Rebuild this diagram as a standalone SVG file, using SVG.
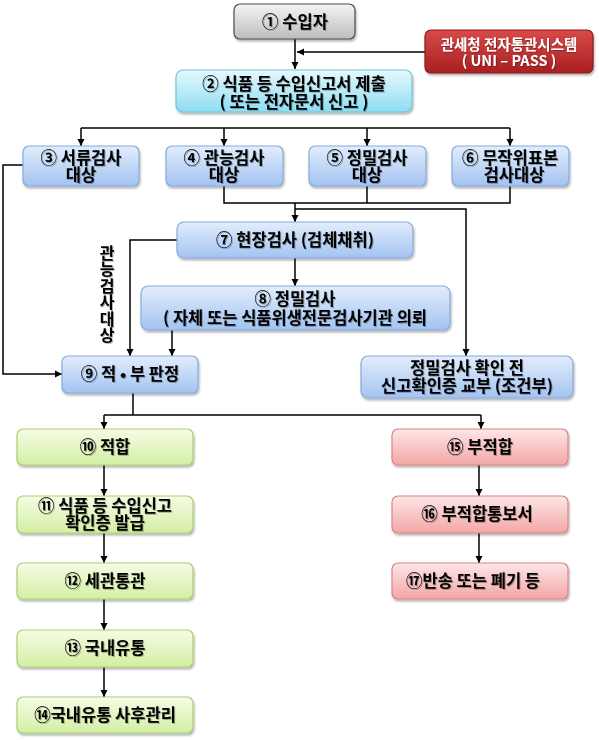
<svg xmlns="http://www.w3.org/2000/svg" width="599" height="740" viewBox="0 0 599 740">
<defs>
<linearGradient id="gGray" x1="0" y1="0" x2="0" y2="1"><stop offset="0" stop-color="#f4f4f4"/><stop offset="1" stop-color="#bdbdbd"/></linearGradient>
<linearGradient id="gRed" x1="0" y1="0" x2="0" y2="1"><stop offset="0" stop-color="#d84a4a"/><stop offset="1" stop-color="#a81f1f"/></linearGradient>
<linearGradient id="gCyan" x1="0" y1="0" x2="0" y2="1"><stop offset="0" stop-color="#e6f9fd"/><stop offset="1" stop-color="#8edcf3"/></linearGradient>
<linearGradient id="gBlue" x1="0" y1="0" x2="0" y2="1"><stop offset="0" stop-color="#e2edfc"/><stop offset="1" stop-color="#a3c3f1"/></linearGradient>
<linearGradient id="gGreen" x1="0" y1="0" x2="0" y2="1"><stop offset="0" stop-color="#f6fce6"/><stop offset="1" stop-color="#d3efa3"/></linearGradient>
<linearGradient id="gPink" x1="0" y1="0" x2="0" y2="1"><stop offset="0" stop-color="#fde6e6"/><stop offset="1" stop-color="#f4a6a6"/></linearGradient>
<filter id="sh" x="-10%" y="-20%" width="120%" height="150%"><feDropShadow dx="1" dy="2" stdDeviation="1.2" flood-color="#000" flood-opacity="0.3"/></filter>
<filter id="ts" x="-5%" y="-20%" width="110%" height="150%"><feDropShadow dx="1" dy="1" stdDeviation="0.7" flood-color="#000" flood-opacity="0.3"/></filter>
<marker id="ar" markerUnits="userSpaceOnUse" markerWidth="8" markerHeight="8" refX="7" refY="4" orient="auto"><path d="M0,0.5 L7,4 L0,7.5 Z" fill="#000"/></marker>
</defs>
<style>
.n{stroke-width:1.2;filter:url(#sh)}
.gray{fill:url(#gGray);stroke:#4d4d4d}
.red{fill:url(#gRed);stroke:#8c1a1a}
.cyan{fill:url(#gCyan);stroke:#6fc3dc}
.blue{fill:url(#gBlue);stroke:#86a9dc}
.green{fill:url(#gGreen);stroke:#a9cf73}
.pink{fill:url(#gPink);stroke:#d98585}
text{font-family:"Noto Sans CJK KR","Noto Sans",sans-serif;font-weight:bold;font-size:16.5px;fill:#000;text-anchor:middle;filter:url(#ts)}
.w{fill:#fff;font-size:14.5px}
.v{font-size:16px;writing-mode:vertical-rl;text-anchor:start;letter-spacing:0.4px}
.c path{fill:none;stroke:#000;stroke-width:1.5}
</style>
<g class="c" id="connectors">
<path d="M295,39 V69" marker-end="url(#ar)"/>
<path d="M425,52 H297" marker-end="url(#ar)"/>
<path d="M81,128 H510"/>
<path d="M81,128 V146" marker-end="url(#ar)"/>
<path d="M224,128 V146" marker-end="url(#ar)"/>
<path d="M367,128 V146" marker-end="url(#ar)"/>
<path d="M510,128 V146" marker-end="url(#ar)"/>
<path d="M224,186 V203 H510 V186"/>
<path d="M367,186 V203"/>
<path d="M295,203 V222" marker-end="url(#ar)"/>
<path d="M295,209 H466 V356" marker-end="url(#ar)"/>
<path d="M23,165 H3 V374 H62" marker-end="url(#ar)"/>
<path d="M177,240 H130 V356" marker-end="url(#ar)"/>
<path d="M295,258 V286" marker-end="url(#ar)"/>
<path d="M172,330 V356" marker-end="url(#ar)"/>
<path d="M133,393 V415"/>
<path d="M104,415 H481"/>
<path d="M104,415 V429" marker-end="url(#ar)"/>
<path d="M481,415 V429" marker-end="url(#ar)"/>
<path d="M104,465 V496" marker-end="url(#ar)"/>
<path d="M104,533 V563" marker-end="url(#ar)"/>
<path d="M104,599 V630" marker-end="url(#ar)"/>
<path d="M104,667 V697" marker-end="url(#ar)"/>
<path d="M479,465 V496" marker-end="url(#ar)"/>
<path d="M479,533 V563" marker-end="url(#ar)"/>
</g>
<g id="n1"><rect class="n gray" x="234" y="4" width="121" height="35" rx="6"/><text x="295" y="27.5">① 수입자</text></g>
<g id="uni"><rect class="n red" x="425" y="30" width="168" height="43" rx="6"/><text class="w" x="509" y="50"><tspan x="509">관세청 전자통관시스템</tspan><tspan x="509" dy="16">( UNI – PASS )</tspan></text></g>
<g id="n2"><rect class="n cyan" x="176" y="70" width="236" height="42" rx="7"/><text x="294" y="90"><tspan x="294">② 식품 등 수입신고서 제출</tspan><tspan x="294" dy="18">( 또는 전자문서 신고 )</tspan></text></g>
<g id="n3"><rect class="n blue" x="23" y="146" width="116" height="40" rx="6"/><text x="81" y="164"><tspan x="81">③ 서류검사</tspan><tspan x="81" dy="17">대상</tspan></text></g>
<g id="n4"><rect class="n blue" x="166" y="146" width="117" height="40" rx="6"/><text x="224" y="164"><tspan x="224">④ 관능검사</tspan><tspan x="224" dy="17">대상</tspan></text></g>
<g id="n5"><rect class="n blue" x="309" y="146" width="117" height="40" rx="6"/><text x="367" y="164"><tspan x="367">⑤ 정밀검사</tspan><tspan x="367" dy="17">대상</tspan></text></g>
<g id="n6"><rect class="n blue" x="452" y="146" width="117" height="40" rx="6"/><text x="510" y="164"><tspan x="510">⑥ 무작위표본</tspan><tspan x="514" dy="17">검사대상</tspan></text></g>
<g id="n7"><rect class="n blue" x="177" y="222" width="236" height="36" rx="7"/><text x="295" y="246">⑦ 현장검사 (검체채취)</text></g>
<g id="lbl"><text class="v" x="107" y="245">관능검사대상</text></g>
<g id="n8"><rect class="n blue" x="141" y="286" width="309" height="44" rx="7"/><text x="295" y="305"><tspan x="295">⑧ 정밀검사</tspan><tspan x="295" dy="19">( 자체 또는 식품위생전문검사기관 의뢰</tspan></text></g>
<g id="n9"><rect class="n blue" x="62" y="356" width="136" height="37" rx="6"/><text x="130" y="380">⑨ 적 • 부 판정</text></g>
<g id="nc"><rect class="n blue" x="361" y="356" width="212" height="42" rx="7"/><text x="467" y="374"><tspan x="467">정밀검사 확인 전</tspan><tspan x="467" dy="18">신고확인증 교부 (조건부)</tspan></text></g>
<g id="n10"><rect class="n green" x="17" y="429" width="176" height="36" rx="6"/><text x="105" y="453">⑩ 적합</text></g>
<g id="n11"><rect class="n green" x="17" y="496" width="176" height="37" rx="6"/><text x="105" y="512"><tspan x="105">⑪ 식품 등 수입신고</tspan><tspan x="105" dy="17">확인증 발급</tspan></text></g>
<g id="n12"><rect class="n green" x="17" y="563" width="176" height="36" rx="6"/><text x="105" y="587">⑫ 세관통관</text></g>
<g id="n13"><rect class="n green" x="17" y="630" width="176" height="37" rx="6"/><text x="105" y="654">⑬ 국내유통</text></g>
<g id="n14"><rect class="n green" x="17" y="697" width="176" height="36" rx="6"/><text x="105" y="721">⑭국내유통 사후관리</text></g>
<g id="n15"><rect class="n pink" x="392" y="429" width="176" height="36" rx="6"/><text x="480" y="453">⑮ 부적합</text></g>
<g id="n16"><rect class="n pink" x="392" y="496" width="176" height="37" rx="6"/><text x="477" y="520">⑯ 부적합통보서</text></g>
<g id="n17"><rect class="n pink" x="392" y="563" width="176" height="36" rx="6"/><text x="473" y="587">⑰반송 또는 폐기 등</text></g>
</svg>
